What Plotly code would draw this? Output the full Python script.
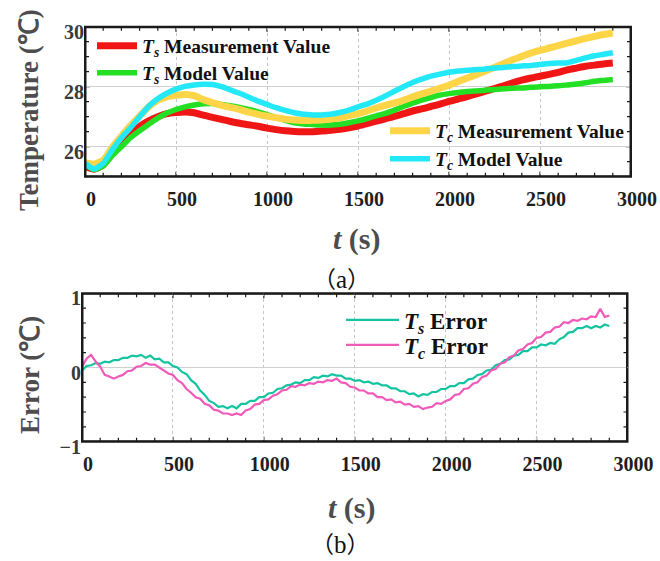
import plotly.graph_objects as go

# ---------------- data ----------------
# time axis for panel (a), seconds
t_top = list(range(0, 2901, 50))

ts_measured = [25.35, 25.25, 25.40, 25.78, 26.15, 26.45, 26.68, 26.86, 27.00, 27.10,
               27.14, 27.16, 27.13, 27.05, 26.98, 26.91, 26.84, 26.78, 26.73, 26.68,
               26.62, 26.57, 26.53, 26.51, 26.50, 26.50, 26.52, 26.55, 26.58, 26.63,
               26.69, 26.77, 26.85, 26.93, 27.01, 27.10, 27.19, 27.26, 27.34, 27.42,
               27.51, 27.59, 27.67, 27.76, 27.85, 27.94, 28.03, 28.13, 28.22, 28.29,
               28.35, 28.41, 28.48, 28.56, 28.62, 28.68, 28.72, 28.76, 28.79]

ts_model = [25.40, 25.24, 25.36, 25.70, 26.00, 26.30, 26.53, 26.75, 26.95, 27.12,
            27.24, 27.33, 27.39, 27.43, 27.44, 27.41, 27.37, 27.31, 27.24, 27.16,
            27.07, 26.97, 26.88, 26.80, 26.76, 26.74, 26.72, 26.72, 26.75, 26.80,
            26.86, 26.94, 27.03, 27.11, 27.22, 27.34, 27.45, 27.55, 27.64, 27.72,
            27.77, 27.81, 27.84, 27.86, 27.88, 27.91, 27.93, 27.95, 27.96, 27.98,
            28.00, 28.01, 28.03, 28.06, 28.09, 28.13, 28.18, 28.21, 28.24]

tc_measured = [25.47, 25.42, 25.55, 25.98, 26.35, 26.70, 27.02, 27.33, 27.55, 27.66,
               27.71, 27.74, 27.70, 27.57, 27.47, 27.38, 27.31, 27.24, 27.15, 27.08,
               27.02, 26.97, 26.92, 26.89, 26.87, 26.88, 26.89, 26.92, 26.96, 27.04,
               27.10, 27.19, 27.29, 27.38, 27.46, 27.55, 27.66, 27.76, 27.85, 27.95,
               28.05, 28.17, 28.29, 28.40, 28.52, 28.65, 28.77, 28.90, 29.01, 29.12,
               29.21, 29.29, 29.37, 29.45, 29.53, 29.61, 29.68, 29.74, 29.79]

tc_model = [25.45, 25.26, 25.45, 25.90, 26.30, 26.63, 27.00, 27.35, 27.60, 27.78,
            27.92, 28.01, 28.06, 28.08, 28.07, 28.00, 27.89, 27.78, 27.65, 27.52,
            27.41, 27.30, 27.21, 27.13, 27.08, 27.06, 27.06, 27.08, 27.14, 27.22,
            27.33, 27.42, 27.55, 27.69, 27.85, 28.00, 28.14, 28.25, 28.35, 28.42,
            28.48, 28.52, 28.55, 28.57, 28.59, 28.62, 28.64, 28.67, 28.69, 28.71,
            28.74, 28.77, 28.79, 28.80, 28.88, 28.96, 29.03, 29.08, 29.13]

# time axis for panel (b), seconds
t_err = list(range(0, 2901, 25))

ts_error = [-0.04, 0.02, 0.03, 0.06, 0.05, 0.08, 0.07, 0.10, 0.10, 0.13,
            0.13, 0.16, 0.15, 0.17, 0.13, 0.16, 0.11, 0.12, 0.07, 0.07,
            0.02, 0.00, -0.06, -0.09, -0.17, -0.22, -0.31, -0.37, -0.45, -0.48,
            -0.53, -0.52, -0.55, -0.52, -0.55, -0.49, -0.49, -0.45, -0.45, -0.40,
            -0.40, -0.35, -0.34, -0.29, -0.28, -0.24, -0.23, -0.20, -0.21, -0.17,
            -0.17, -0.13, -0.14, -0.11, -0.12, -0.09, -0.11, -0.11, -0.15, -0.15,
            -0.18, -0.17, -0.20, -0.19, -0.22, -0.21, -0.24, -0.24, -0.28, -0.28,
            -0.32, -0.32, -0.36, -0.35, -0.39, -0.36, -0.37, -0.33, -0.33, -0.29,
            -0.29, -0.25, -0.25, -0.21, -0.21, -0.16, -0.15, -0.10, -0.09, -0.04,
            -0.03, 0.03, 0.05, 0.10, 0.11, 0.16, 0.17, 0.22, 0.22, 0.27,
            0.27, 0.31, 0.30, 0.33, 0.32, 0.38, 0.41, 0.47, 0.48, 0.53,
            0.53, 0.56, 0.53, 0.56, 0.54, 0.58, 0.56]

tc_error = [0.01, 0.12, 0.17, 0.08, 0.01, -0.10, -0.12, -0.15, -0.12, -0.10,
            -0.05, -0.04, 0.01, 0.02, 0.06, 0.04, 0.04, 0.00, -0.03, -0.08,
            -0.10, -0.17, -0.21, -0.29, -0.34, -0.40, -0.42, -0.49, -0.51, -0.57,
            -0.58, -0.62, -0.62, -0.64, -0.62, -0.64, -0.58, -0.56, -0.50, -0.49,
            -0.44, -0.43, -0.38, -0.36, -0.31, -0.30, -0.25, -0.26, -0.23, -0.24,
            -0.21, -0.22, -0.19, -0.20, -0.17, -0.18, -0.15, -0.20, -0.21, -0.26,
            -0.27, -0.31, -0.31, -0.35, -0.35, -0.40, -0.40, -0.44, -0.43, -0.47,
            -0.46, -0.50, -0.49, -0.53, -0.52, -0.56, -0.54, -0.53, -0.48, -0.49,
            -0.45, -0.43, -0.37, -0.36, -0.29, -0.28, -0.22, -0.20, -0.13, -0.11,
            -0.04, -0.02, 0.05, 0.07, 0.14, 0.16, 0.23, 0.25, 0.31, 0.33,
            0.40, 0.41, 0.47, 0.48, 0.54, 0.55, 0.61, 0.60, 0.64, 0.63,
            0.66, 0.65, 0.69, 0.68, 0.79, 0.68, 0.70]

# axis ranges and tick steps
x_range = [0, 3000]
top_y_range = [25, 30]
err_y_range = [-1, 1]
x_major, x_minor = 500, 100
top_y_major, top_y_minor = 2, 0.5
err_y_major, err_y_minor = 1, 0.2

# ---------------- figure ----------------
W, H = 660, 561
SERIF = "Liberation Serif"
CJK = "Noto Sans CJK SC"
AXIS_GRAY = "#4d4d4d"
FRAME = "#1a1a1a"


def px(x):
    return x / W


def py(y):
    return 1 - y / H


fig = go.Figure()

top_series = [
    ("<i>T<sub>s</sub></i> Measurement Value", ts_measured, "#f01616", 7, "legend", 46, 92),
    ("<i>T<sub>s</sub></i> Model Value", ts_model, "#24e024", 5.5, "legend2", 73, 92),
    ("<i>T<sub>c</sub></i> Measurement Value", tc_measured, "#ffd548", 7, "legend3", 131, 385),
    ("<i>T<sub>c</sub></i> Model Value", tc_model, "#22e8f8", 5.5, "legend4", 159, 385),
]
for name, vals, color, width, leg, _, _ in top_series:
    fig.add_trace(go.Scatter(
        x=t_top, y=vals, mode="lines", name=name,
        line=dict(color=color, width=width, shape="spline", smoothing=0.6),
        xaxis="x", yaxis="y", legend=leg,
    ))

err_series = [
    ("<i>T<sub>s</sub></i> Error", ts_error, "#14c4a0", "legend5", 320, 341),
    ("<i>T<sub>c</sub></i> Error", tc_error, "#f05ab8", "legend6", 345, 341),
]
for name, vals, color, leg, _, _ in err_series:
    fig.add_trace(go.Scatter(
        x=t_err, y=vals, mode="lines", name=name,
        line=dict(color=color, width=2.2),
        xaxis="x2", yaxis="y2", legend=leg,
    ))

# panel borders, traced along the axis ranges
for xa, ya, yr in (("x", "y", top_y_range), ("x2", "y2", err_y_range)):
    fig.add_trace(go.Scatter(
        x=[x_range[0], x_range[1], x_range[1], x_range[0], x_range[0]],
        y=[yr[0], yr[0], yr[1], yr[1], yr[0]],
        mode="lines", line=dict(color=FRAME, width=3),
        xaxis=xa, yaxis=ya, showlegend=False, hoverinfo="skip",
    ))

tickfont = dict(family=SERIF, size=20, color="#1e1e1e", weight="bold")
xaxis_common = dict(range=x_range, dtick=x_major, tick0=0, automargin=False,
                    showline=False, ticks="",
                    showgrid=True, gridcolor="#c4c4c4", gridwidth=1,
                    griddash="dot", zeroline=False, tickfont=tickfont,
                    ticklabelshift=6, ticklabelstandoff=8)
yaxis_common = dict(automargin=False, showline=False, ticks="",
                    showgrid=True, gridcolor="#cfcfcf",
                    gridwidth=1, zeroline=False, ticklabelshift=5,
                    tickfont=dict(tickfont, color="#3a3a3a"))

legend_layout = {}
for _, _, _, _, leg, ymid, xleft in top_series:
    legend_layout[leg] = dict(
        x=px(xleft), y=py(ymid), xanchor="left", yanchor="middle",
        bgcolor="rgba(0,0,0,0)", itemwidth=40,
        font=dict(family=SERIF, size=19.5, color="#111", weight="bold"))
for _, _, _, leg, ymid, xleft in err_series:
    legend_layout[leg] = dict(
        x=px(xleft), y=py(ymid), xanchor="left", yanchor="middle",
        bgcolor="rgba(0,0,0,0)", itemwidth=53,
        font=dict(family=SERIF, size=23, color="#111", weight="bold"))

fig.update_layout(
    width=W, height=H,
    margin=dict(l=0, r=0, t=0, b=0, autoexpand=False),
    paper_bgcolor="white", plot_bgcolor="white",
    font=dict(family=SERIF),
    xaxis=dict(**xaxis_common, domain=[px(85), px(631)], anchor="y"),
    yaxis=dict(**yaxis_common, domain=[py(176.7), py(26.7)], anchor="x",
               range=top_y_range, dtick=top_y_major, tick0=24),
    xaxis2=dict(**xaxis_common, domain=[px(82), px(627.5)], anchor="y2"),
    yaxis2=dict(**yaxis_common, domain=[py(441.7), py(293.3)], anchor="x2",
                range=err_y_range, dtick=err_y_major, tick0=0),
    showlegend=True,
    **legend_layout,
)


# frame and inward ticks on all four sides of each panel
def frame_and_x_ticks(xr, yr):
    shapes = [dict(type="rect", xref=f"{xr} domain", yref=f"{yr} domain",
                   x0=0, x1=1, y0=0, y1=1, line=dict(color=FRAME, width=2),
                   layer="below")]
    n = int(round((x_range[1] - x_range[0]) / x_minor))
    step = int(round(x_major / x_minor))
    for i in range(n + 1):
        v = x_range[0] + i * x_minor
        ln = 5 if i % step == 0 else 4
        for anchor, sign in ((0, 1), (1, -1)):
            shapes.append(dict(type="line", xref=xr, yref=f"{yr} domain",
                               ysizemode="pixel", yanchor=anchor,
                               x0=v, x1=v, y0=0, y1=sign * ln,
                               line=dict(color=FRAME, width=1.2), layer="below"))
    return shapes


def y_ticks(xr, yr, yrange, major, minor):
    shapes = []
    n = int(round((yrange[1] - yrange[0]) / minor))
    for i in range(n + 1):
        v = yrange[0] + i * minor
        is_major = abs(v / major - round(v / major)) < 1e-6
        ln = 5 if is_major else 4
        for anchor, sign in ((0, 1), (1, -1)):
            shapes.append(dict(type="line", xref=f"{xr} domain", yref=yr,
                               xsizemode="pixel", xanchor=anchor,
                               x0=0, x1=sign * ln, y0=v, y1=v,
                               line=dict(color=FRAME, width=1.2), layer="below"))
    return shapes


shapes = frame_and_x_ticks("x", "y")
shapes += y_ticks("x", "y", top_y_range, top_y_major, top_y_minor)
shapes += frame_and_x_ticks("x2", "y2")
shapes += y_ticks("x2", "y2", err_y_range, err_y_major, err_y_minor)
fig.update_layout(shapes=shapes)

label_font = dict(family=SERIF, size=27, color=AXIS_GRAY, weight="bold")
caption_font = dict(family=SERIF, size=25, color="#111")
paren = '<span style="font-family:' + CJK + ';font-size:23px">{}</span>'
annotations = [
    dict(text="Temperature (℃)", x=px(29), y=py(110), textangle=-90, font=label_font),
    dict(text="<i>t</i> (s)", x=px(357), y=py(239), font=dict(label_font, size=30)),
    dict(text=paren.format("（") + "a" + paren.format("）"), x=px(341), y=py(278),
         font=caption_font),
    dict(text="Error (℃)", x=px(30), y=py(375), textangle=-90, font=label_font),
    dict(text="<i>t</i> (s)", x=px(352), y=py(508), font=dict(label_font, size=30)),
    dict(text=paren.format("（") + "b" + paren.format("）"), x=px(340), y=py(543),
         font=caption_font),
]
for a in annotations:
    fig.add_annotation(xref="paper", yref="paper", showarrow=False,
                       xanchor="center", yanchor="middle", **a)

fig.write_html("out.html")
